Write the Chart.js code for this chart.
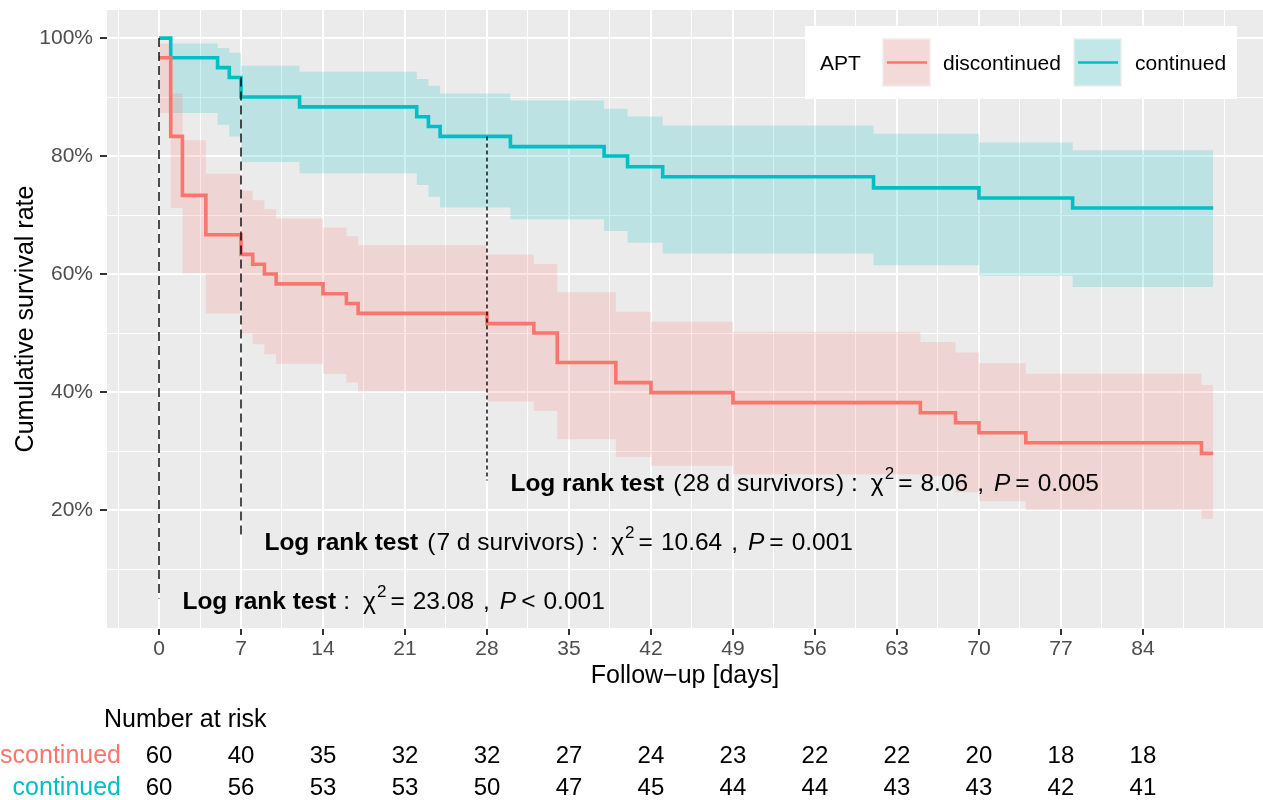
<!DOCTYPE html>
<html lang="en">
<head>
  <meta charset="UTF-8">
  <title>Cumulative survival by APT</title>
  <script src="https://cdn.jsdelivr.net/npm/chart.js"></script>
  <style>
    html, body { margin: 0; padding: 0; background: #fff; }
    canvas { display: block; }
  </style>
</head>
<body>
  <canvas id="km" width="1263" height="800"></canvas>

  <script>
    const FONT = "'Liberation Sans', Arial, Helvetica, sans-serif";
    const RED = '#F8766D';
    const TEAL = '#00BFC4';

    // axis ticks
    const xGrid = [-3.5, 0, 3.5, 7, 10.5, 14, 17.5, 21, 24.5, 28, 31.5, 35, 38.5, 42, 45.5, 49, 52.5, 56, 59.5, 63, 66.5, 70, 73.5, 77, 80.5, 84, 87.5, 91];
    const xLabels = [0, 7, 14, 21, 28, 35, 42, 49, 56, 63, 70, 77, 84];
    const yGrid = [0, 10, 20, 30, 40, 50, 60, 70, 80, 90, 100];
    const yLabels = [20, 40, 60, 80, 100];

    // APT continued
    const contTime  = [0, 1, 5, 6, 7, 12, 22, 23, 24, 30, 38, 40, 43, 61, 70, 78, 90];
    const contSurv  = [100, 96.67, 95, 93.33, 90, 88.33, 86.67, 85, 83.33, 81.6, 80, 78.2, 76.5, 74.6, 72.9, 71.2, 71.2];
    const contUpper = [100, 99.1, 98.3, 97.5, 95.3, 94.3, 93.05, 91.9, 90.6, 89.4, 88.0, 86.7, 85.2, 83.8, 82.3, 81.0, 81.0];
    const contLower = [100, 87.3, 85.3, 83.3, 79.0, 77.1, 75.1, 73.1, 71.3, 69.3, 67.3, 65.3, 63.5, 61.5, 59.7, 57.8, 57.8];

    // APT discontinued
    const discTime  = [0, 1, 2, 4, 7, 8, 9, 10, 14, 16, 17, 28, 32, 34, 39, 42, 49, 65, 68, 70, 74, 89, 90];
    const discSurv  = [96.67, 83.33, 73.33, 66.67, 63.33, 61.67, 60, 58.33, 56.67, 55, 53.33, 51.6, 50.0, 45.0, 41.6, 39.9, 38.2, 36.5, 34.8, 33.1, 31.4, 29.6, 29.6];
    const discUpper = [99.1, 90.6, 82.7, 77.0, 74.1, 72.5, 71.0, 69.4, 67.9, 66.4, 64.9, 63.3, 61.7, 56.9, 53.6, 51.9, 50.2, 48.5, 46.7, 44.9, 43.1, 41.2, 41.2];
    const discLower = [87.3, 71.2, 60.1, 53.3, 49.9, 48.1, 46.4, 44.8, 43.1, 41.6, 40.1, 38.4, 36.8, 32.0, 29.0, 27.5, 26.0, 25.8, 23.0, 21.5, 20.0, 18.5, 18.5];

    // landmark lines + log rank labels
    const cutDays   = [0, 7, 28];
    const cutTop    = [100, 93.33, 83.33];
    const cutBottom = [5, 15, 25];
    const cutDash   = [[9, 5], [9, 5], [4, 3]];
    const testDay   = [2, 9, 30];
    const testY     = [5, 15, 25];
    const testGroup = ['', '7 d survivors', '28 d survivors'];
    const testChi   = ['23.08', '10.64', '8.06'];
    const testPOp   = ['<', '=', '='];
    const testP     = ['0.001', '0.001', '0.005'];

    // number at risk
    const riskDays = [0, 7, 14, 21, 28, 35, 42, 49, 56, 63, 70, 77, 84];
    const riskDisc = [60, 40, 35, 32, 32, 27, 24, 23, 22, 22, 20, 18, 18];
    const riskCont = [60, 56, 53, 53, 50, 47, 45, 44, 44, 43, 43, 42, 41];

    function pts(xs, ys) {
      return xs.map((x, i) => ({ x: x, y: ys[i] }));
    }

    function stepLine(xs, ys, color) {
      return { data: pts(xs, ys), borderColor: color, borderWidth: 3.6, stepped: true,
               pointRadius: 0, fill: false, borderJoinStyle: 'miter', order: 2 };
    }
    function bandEdge(xs, ys, fillColor) {
      return { data: pts(xs, ys), borderColor: 'transparent', borderWidth: 0, stepped: true,
               pointRadius: 0, fill: fillColor ? '-1' : false,
               backgroundColor: fillColor || 'transparent', order: 3 };
    }

    const datasets = [
      bandEdge(discTime, discUpper),
      bandEdge(discTime, discLower, 'rgba(248,118,109,0.2)'),
      bandEdge(contTime, contUpper),
      bandEdge(contTime, contLower, 'rgba(0,191,196,0.2)'),
      stepLine(discTime, discSurv, RED),
      stepLine(contTime, contSurv, TEAL)
    ];
    cutDays.forEach((d, i) => {
      datasets.push({ data: [{ x: d, y: cutTop[i] }, { x: d, y: cutBottom[i] }],
        borderColor: '#000', borderWidth: 1.4, borderDash: cutDash[i],
        pointRadius: 0, fill: false, order: 1 });
    });

    function drawTest(ctx, x, y, i) {
      const parts = [{ t: 'Log rank test', f: 'bold' }];
      if (testGroup[i]) {
        parts.push({ t: '(', g: 9 }, { t: testGroup[i], g: 1 }, { t: ')', g: 1 });
      }
      parts.push({ t: ':', g: 7 }, { t: 'χ', g: 13 }, { t: '2', g: 1, sup: true },
                 { t: '=', g: 4 }, { t: testChi[i], g: 8 }, { t: ',', g: 9 },
                 { t: 'P', g: 10, f: 'italic' }, { t: testPOp[i], g: 5 }, { t: testP[i], g: 8 });
      let cx = x;
      ctx.textAlign = 'left';
      ctx.textBaseline = 'alphabetic';
      ctx.fillStyle = '#000';
      parts.forEach(p => {
        const size = p.sup ? 17 : 24.5;
        ctx.font = `${p.f || 'normal'} ${size}px ${FONT}`;
        cx += p.g || 0;
        ctx.fillText(p.t, cx, y + 10.5 - (p.sup ? 12.5 : 0));
        cx += ctx.measureText(p.t).width;
      });
    }

    const decor = {
      id: 'decor',
      beforeDraw(chart) {
        const { ctx, chartArea: a } = chart;
        ctx.save();
        ctx.fillStyle = '#fff';
        ctx.fillRect(0, 0, chart.width, chart.height);
        ctx.fillStyle = '#EBEBEB';
        ctx.fillRect(a.left, a.top, a.right - a.left, a.bottom - a.top);
        ctx.restore();
      },
      afterDraw(chart) {
        const { ctx, chartArea: a } = chart;
        const xs = chart.scales.x, ys = chart.scales.y;
        ctx.save();

        // log rank annotations
        testDay.forEach((d, i) => drawTest(ctx, xs.getPixelForValue(d), ys.getPixelForValue(testY[i]), i));

        // legend
        const lx = 805, ly = 26;
        ctx.fillStyle = '#fff';
        ctx.fillRect(lx, ly, 432, 73);
        ctx.fillStyle = '#000';
        ctx.font = `21px ${FONT}`;
        ctx.textBaseline = 'alphabetic';
        ctx.textAlign = 'left';
        ctx.fillText('APT', lx + 15, ly + 44);
        const keys = [[882, RED, 'rgba(248,118,109,0.2)', 'discontinued', 943],
                      [1073, TEAL, 'rgba(0,191,196,0.2)', 'continued', 1135]];
        keys.forEach(k => {
          ctx.fillStyle = '#F2F2F2';
          ctx.fillRect(k[0], ly + 12, 49, 49);
          ctx.fillStyle = k[2];
          ctx.fillRect(k[0] + 1.5, ly + 13.5, 46, 46);
          ctx.strokeStyle = k[1];
          ctx.lineWidth = 2.5;
          ctx.beginPath();
          ctx.moveTo(k[0] + 5, ly + 36.5);
          ctx.lineTo(k[0] + 45, ly + 36.5);
          ctx.stroke();
          ctx.fillStyle = '#000';
          ctx.fillText(k[3], k[4], ly + 44);
        });

        // axis titles
        ctx.font = `25px ${FONT}`;
        ctx.textAlign = 'center';
        ctx.fillText('Follow\u2212up [days]', (a.left + a.right) / 2, 683);
        ctx.save();
        ctx.translate(33, (a.top + a.bottom) / 2);
        ctx.rotate(-Math.PI / 2);
        ctx.fillText('Cumulative survival rate', 0, 0);
        ctx.restore();

        // number at risk table
        ctx.font = `25px ${FONT}`;
        ctx.textAlign = 'left';
        ctx.fillStyle = '#000';
        ctx.fillText('Number at risk', 104, 727);
        const rows = [[riskDisc, 'discontinued', RED, 763], [riskCont, 'continued', TEAL, 795]];
        rows.forEach(r => {
          ctx.font = `25px ${FONT}`;
          ctx.textAlign = 'right';
          ctx.fillStyle = r[2];
          ctx.fillText(r[1], 121, r[3]);
          ctx.font = `24px ${FONT}`;
          ctx.textAlign = 'center';
          ctx.fillStyle = '#000';
          riskDays.forEach((d, i) => ctx.fillText(String(r[0][i]), xs.getPixelForValue(d), r[3]));
        });
        ctx.restore();
      }
    };

    new Chart(document.getElementById('km'), {
      type: 'line',
      data: { datasets: datasets },
      options: {
        responsive: false,
        animation: false,
        layout: { padding: { top: 10, right: 0, bottom: 0, left: 0 } },
        plugins: { legend: { display: false }, tooltip: { enabled: false } },
        scales: {
          x: {
            type: 'linear', min: -4.44, max: 94.25,
            afterBuildTicks: s => { s.ticks = xGrid.map(v => ({ value: v })); },
            afterFit: s => { s.height = 172; s.paddingLeft = 0; s.paddingRight = 0; },
            ticks: {
              autoSkip: false, maxRotation: 0, padding: 2, color: '#4D4D4D',
              font: { family: FONT, size: 21 },
              callback: v => xLabels.includes(v) ? String(v) : ''
            },
            grid: {
              color: '#fff',
              lineWidth: c => xLabels.includes(c.tick && c.tick.value) ? 2 : 1,
              tickLength: 7, tickWidth: 2,
              tickColor: c => xLabels.includes(c.tick && c.tick.value) ? '#333' : 'rgba(0,0,0,0)'
            },
            border: { display: false }
          },
          y: {
            type: 'linear', min: 0, max: 104.76,
            afterBuildTicks: s => { s.ticks = yGrid.map(v => ({ value: v })); },
            afterFit: s => { s.width = 107; s.paddingTop = 0; s.paddingBottom = 0; },
            ticks: {
              autoSkip: false, padding: 7, color: '#4D4D4D',
              font: { family: FONT, size: 21 },
              callback: v => yLabels.includes(v) ? v + '%' : ''
            },
            grid: {
              color: '#fff',
              lineWidth: c => yLabels.includes(c.tick && c.tick.value) ? 2 : 1,
              tickLength: 7, tickWidth: 2,
              tickColor: c => yLabels.includes(c.tick && c.tick.value) ? '#333' : 'rgba(0,0,0,0)'
            },
            border: { display: false }
          }
        }
      },
      plugins: [decor]
    });
  </script>
</body>
</html>
